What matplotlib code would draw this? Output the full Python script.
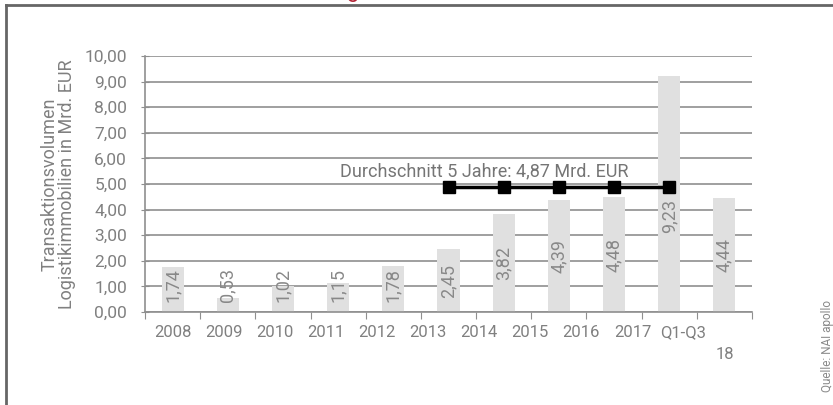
import numpy as np
import matplotlib.pyplot as plt
from matplotlib.lines import Line2D
from matplotlib.transforms import blended_transform_factory

# Data
years = ['2008', '2009', '2010', '2011', '2012', '2013', '2014', '2015', '2016', '2017', 'Q1-Q3']
volumes = [1.74, 0.53, 1.02, 1.15, 1.78, 2.45, 3.82, 4.39, 4.48, 9.23, 4.44]
avg_years = ['2013', '2014', '2015', '2016', '2017']
avg_value = 4.87
avg_label = 'Durchschnitt 5 Jahre: 4,87 Mrd. EUR'
y_ticks = [0, 1, 2, 3, 4, 5, 6, 7, 8, 9, 10]

plt.rcParams['font.family'] = ['Roboto', 'DejaVu Sans']
grey_txt = '#808080'
grid_col = '#8f8f8f'

fig = plt.figure(figsize=(8.33, 4.05), dpi=100)
ax = fig.add_axes([145 / 833, 1 - 312 / 405, 607 / 833, 256 / 405])

x = np.arange(len(years))
ax.bar(x, volumes, width=0.4, color='#e0e0e0', zorder=2)

# value labels inside bars, rotated
for xi, v in zip(x, volumes):
    ypos = min(max(v / 2, 1.05), 3.75)
    ax.text(xi, ypos, f'{v:.2f}'.replace('.', ','), rotation=90, ha='center', va='center',
            fontsize=13, color='#888888', zorder=3)

# 5-year average line
ax_idx = [years.index(y) for y in avg_years]
ax.plot(ax_idx, [avg_value] * len(ax_idx), color='black', lw=2.5, marker='s',
        markersize=8, zorder=4)
ax.text(ax_idx[0] - 1.97, avg_value + 0.62, avg_label, ha='left', va='center',
        fontsize=13, color='#757575', zorder=4)

ax.set_xlim(-0.5, len(years) - 0.5)
ax.set_ylim(0, 10)
ax.set_yticks(y_ticks)
ax.set_yticklabels([f'{t:.2f}'.replace('.', ',') for t in y_ticks], fontsize=12.5,
                   color=grey_txt)
ax.yaxis.grid(True, color=grid_col, lw=1.2, zorder=1)
ax.tick_params(axis='y', direction='inout', length=6, color=grid_col, pad=10)

ax.set_xticks(np.arange(-0.5, len(years), 1))
ax.set_xticklabels([])
ax.tick_params(axis='x', direction='out', length=5, color=grid_col)

# category labels (drift slightly left like the reference)
trans = blended_transform_factory(ax.transData, ax.transAxes)
for i, lab in enumerate(years):
    ax.text(i * 0.926, -0.08, lab, transform=trans, ha='center', va='center',
            fontsize=12, color=grey_txt)
ax.text(len(years) - 1, -0.165, '18', transform=trans, ha='center', va='center',
        fontsize=12, color=grey_txt)

for s in ['top', 'right']:
    ax.spines[s].set_visible(False)
for s in ['left', 'bottom']:
    ax.spines[s].set_color(grid_col)
    ax.spines[s].set_linewidth(1.2)

ax.set_ylabel('Transaktionsvolumen\nLogistikimmobilien in Mrd. EUR', fontsize=13,
              color=grey_txt, labelpad=6, linespacing=1.0)

# outer frame and cut-off title
fig.add_artist(Line2D([6 / 833, 1], [1 - 5 / 405] * 2, color='#666666', lw=2))
fig.add_artist(Line2D([6 / 833] * 2, [0, 1 - 5 / 405], color='#666666', lw=2))
fig.text(353 / 833, 1 + 3 / 405, 'g', color='#b22234', fontsize=16, ha='center', va='baseline')

fig.text(828 / 833, 1 - 300 / 405, 'Quelle: NAI apollo', rotation=90, fontsize=8.5,
         color='#8a8a8a', ha='center', va='top')

fig.savefig('out.png', dpi=100)
